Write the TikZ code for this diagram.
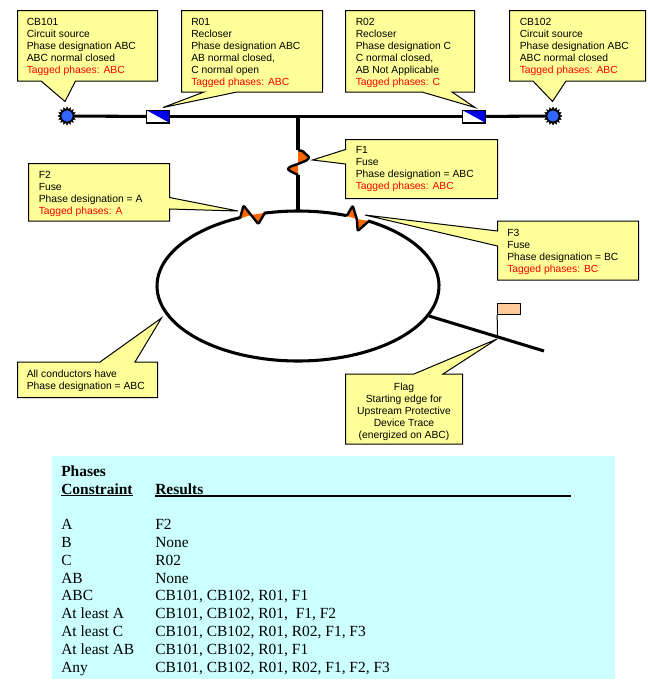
\documentclass[tikz,border=0pt]{standalone}
\usepackage{fontspec}
\setmainfont{Liberation Sans}
\newfontfamily\tablefont{Liberation Serif}
\usetikzlibrary{shapes.geometric}
\definecolor{noteyellow}{HTML}{FFFF99}
\definecolor{tablecyan}{HTML}{CCFFFF}
\definecolor{fuseorange}{HTML}{FF6600}
\definecolor{srcblue}{HTML}{3366FF}
\definecolor{closerblue}{HTML}{0000E6}
\definecolor{flagfill}{HTML}{FFCC99}
\definecolor{tagred}{HTML}{FF0000}
\newcommand{\tagged}[1]{\textcolor{tagred}{Tagged phases: #1}}
\newcommand{\ulbox}[3]{\vtop{\hbox{#1}\kern0.6pt\hrule height #3 width #2}}
\tikzset{
  x=0.75pt,y=-0.75pt,
  notebox/.style={draw=black,fill=noteyellow,line width=0.75pt,line join=miter},
  notetext/.style={anchor=north west,inner sep=0pt,align=left,font=\fontsize{7.75pt}{9pt}\selectfont},
  notecentre/.style={anchor=north,inner sep=0pt,align=center,font=\fontsize{7.75pt}{9pt}\selectfont},
  wire/.style={draw=black,line width=2.3pt},
  thinwire/.style={draw=black,line width=0.75pt},
  srcstar/.style={star,star points=16,star point ratio=1.35,minimum size=13.5pt,inner sep=0pt,fill=black,draw=black,line width=0.3pt},
  srcdot/.style={circle,minimum size=8.5pt,inner sep=0pt,fill=srcblue},
  closerbox/.style={rectangle,draw=black,fill=white,line width=0.75pt,minimum width=17pt,minimum height=9pt,inner sep=0pt},
  closerfill/.style={fill=closerblue},
  fusewave/.style={draw=black,line width=1.8pt,line join=round,rounded corners=0.8pt},
  fusefill/.style={fill=fuseorange},
  flagbox/.style={rectangle,draw=black,fill=flagfill,line width=0.75pt,minimum width=17pt,minimum height=8.3pt,inner sep=0pt},
  tablerow/.style={anchor=base west,inner sep=0pt,font=\tablefont\fontsize{11.6pt}{11.6pt}\selectfont},
  tablehead/.style={anchor=base west,inner sep=0pt,font=\tablefont\bfseries\fontsize{11.6pt}{11.6pt}\selectfont},
}
\begin{document}
\begin{tikzpicture}
\useasboundingbox (0,0) rectangle (648,689);

% named points
\coordinate (busL) at (67,116);
\coordinate (busR) at (553,116);
\node[closerbox] (r01) at (158,116.5) {};
\node[closerbox] (r02) at (474,116.5) {};
\coordinate (tee) at (298,116);
\coordinate (teeF) at (298,150);
\coordinate (teeE) at (298,175);
\coordinate (ring) at (298,211);
\coordinate (tailA) at (429,316);
\coordinate (tailB) at (544,351);
\coordinate (flagfoot) at (497.5,338);

% wires
\draw[wire] (busL) -- (r01);
\draw[wire] (r01) -- (r02);
\draw[wire] (r02) -- (busR);
\draw[wire] (tee) -- (teeF);
\draw[wire] (teeE) -- (ring);
\draw[wire] (tailA) -- (tailB);

% sources
\node[srcstar] (cb101) at (busL) {};
\node[srcdot] at (cb101) {};
\node[srcstar] (cb102) at (busR) {};
\node[srcdot] at (cb102) {};

% reclosers
\node[closerbox] at (r01) {};
\fill[closerfill] (r01.north west) -- (r01.north east) -- (r01.south east) -- cycle;
\draw[thinwire] (r01.north west) rectangle (r01.south east);
\node[closerbox] at (r02) {};
\fill[closerfill] (r02.north west) -- (r02.north east) -- (r02.south east) -- cycle;
\draw[thinwire] (r02.north west) rectangle (r02.south east);

% ring with gaps for the fuses
\draw[wire] plot[domain=104:69.8,samples=20,smooth] ({298+141*cos(\x)},{286-75*sin(\x)});
\draw[wire] plot[domain=60.2:-245.8,samples=120,smooth] ({298+141*cos(\x)},{286-75*sin(\x)});

% fuse F1
\fill[fusefill] (298,150) -- (302.5,151) -- (309.5,157.5) -- (306.5,160.5) -- (298,164) -- cycle;
\fill[fusefill] (298,164) -- (290.5,166.5) -- (287.5,169) -- (291,171.5) -- (298,175.5) -- cycle;
\draw[fusewave] (teeF) -- (302.5,151) -- (309.5,157.5) -- (306.5,160.5) -- (298,164)
  -- (290.5,166.5) -- (287.5,169) -- (291,171.5) -- (teeE);
% fuse F2
\fill[fusefill] (240,218.5) -- (243.5,205.5) -- (251,215) -- cycle;
\fill[fusefill] (251,215) -- (265,212.8) -- (258.3,224) -- cycle;
\draw[fusewave] (240,218.5) -- (243.5,205.5) -- (258.3,224) -- (265,212.8);
% fuse F3
\fill[fusefill] (346.7,216) -- (352.7,205.7) -- (356.8,219) -- cycle;
\fill[fusefill] (356.8,219) -- (369,221) -- (357.7,231) -- cycle;
\draw[fusewave] (346.7,216) -- (352.7,205.7) -- (356.8,219) -- (357.7,231) -- (369,221);

% flag
\node[flagbox] (flag) at (509,309) {};
\draw[thinwire] (flag.south west) -- (flagfoot);

% callouts
\draw[notebox] (17.5,10.5) -- (157.5,10.5) -- (157.5,81) -- (75.5,81) -- (65,101.5) -- (41,81) -- (17.5,81) -- cycle;
\draw[notebox] (181.5,10.5) -- (322.5,10.5) -- (322.5,92) -- (237,92) -- (163,107.5) -- (204,92) -- (181.5,92) -- cycle;
\draw[notebox] (345.5,10.5) -- (474.5,10.5) -- (474.5,92) -- (452,92) -- (475,107.5) -- (422,92) -- (345.5,92) -- cycle;
\draw[notebox] (509.5,10.5) -- (645.5,10.5) -- (645.5,81) -- (566,81) -- (552.5,101.5) -- (533,81) -- (509.5,81) -- cycle;
\draw[notebox] (345.5,139.5) -- (497.5,139.5) -- (497.5,198.5) -- (345.5,198.5) -- (345.5,164) -- (312.5,160) -- (345.5,149.5) -- cycle;
\draw[notebox] (28.5,163.5) -- (169.5,163.5) -- (169.5,197.5) -- (238,211) -- (169.5,209) -- (169.5,221) -- (28.5,221) -- cycle;
\draw[notebox] (497.5,221) -- (638.5,221) -- (638.5,280) -- (497.5,280) -- (497.5,246) -- (365,215) -- (497.5,231) -- cycle;
\draw[notebox] (17.5,362) -- (100,362) -- (161.5,318) -- (135,362) -- (157.5,362) -- (157.5,397.5) -- (17.5,397.5) -- cycle;
\draw[notebox] (345.5,374) -- (414,374) -- (497,339) -- (443,374) -- (462.5,374) -- (462.5,444) -- (345.5,444) -- cycle;

% callout texts
\node[notetext] (tcb101) at (26.5,18) {CB101\\Circuit source\\Phase designation ABC\\ABC normal closed\\\tagged{ABC}};
\node[notetext] (tr01) at (191,18) {R01\\Recloser\\Phase designation ABC\\AB normal closed,\\C normal open\\\tagged{ABC}};
\node[notetext] (tr02) at (355.5,18) {R02\\Recloser\\Phase designation C\\C normal closed,\\AB Not Applicable\\\tagged{C}};
\node[notetext] (tcb102) at (519.5,18) {CB102\\Circuit source\\Phase designation ABC\\ABC normal closed\\\tagged{ABC}};
\node[notetext] (tf1) at (355.5,146.5) {F1\\Fuse\\Phase designation = ABC\\\tagged{ABC}};
\node[notetext] (tf2) at (38.5,171.5) {F2\\Fuse\\Phase designation = A\\\tagged{A}};
\node[notetext] (tf3) at (507,229) {F3\\Fuse\\Phase designation = BC\\\tagged{BC}};
\node[notetext] (tall) at (26.5,370) {All conductors have\\Phase designation = ABC};
\node[notecentre] (tflag) at (404,383) {Flag\\Starting edge for\\Upstream Protective\\Device Trace\\(energized on ABC)};

% table
\fill[tablecyan] (52,456) rectangle (615,678.5);
\node[tablehead] (hphases) at (61,476) {Phases};
\node[tablehead] (hcons) at (61,494) {\ulbox{Constraint}{54pt}{0.8pt}};
\node[tablehead] (hres) at (155,494) {\ulbox{Results}{312pt}{1.4pt}};
\foreach \yy/\aa/\bb in {
 529.5/A/F2,
 547.4/B/None,
 565.2/C/R02,
 583/AB/None,
 600.9/ABC/{CB101, CB102, R01, F1},
 618.8/At least A/{CB101, CB102, R01,\ \ F1, F2},
 636.6/At least C/{CB101, CB102, R01, R02, F1, F3},
 654.5/At least AB/{CB101, CB102, R01, F1},
 672.3/Any/{CB101, CB102, R01, R02, F1, F2, F3}}{
  \node[tablerow] at (61,\yy) {\aa};
  \node[tablerow] at (155,\yy) {\bb};
}
\end{tikzpicture}
\end{document}
